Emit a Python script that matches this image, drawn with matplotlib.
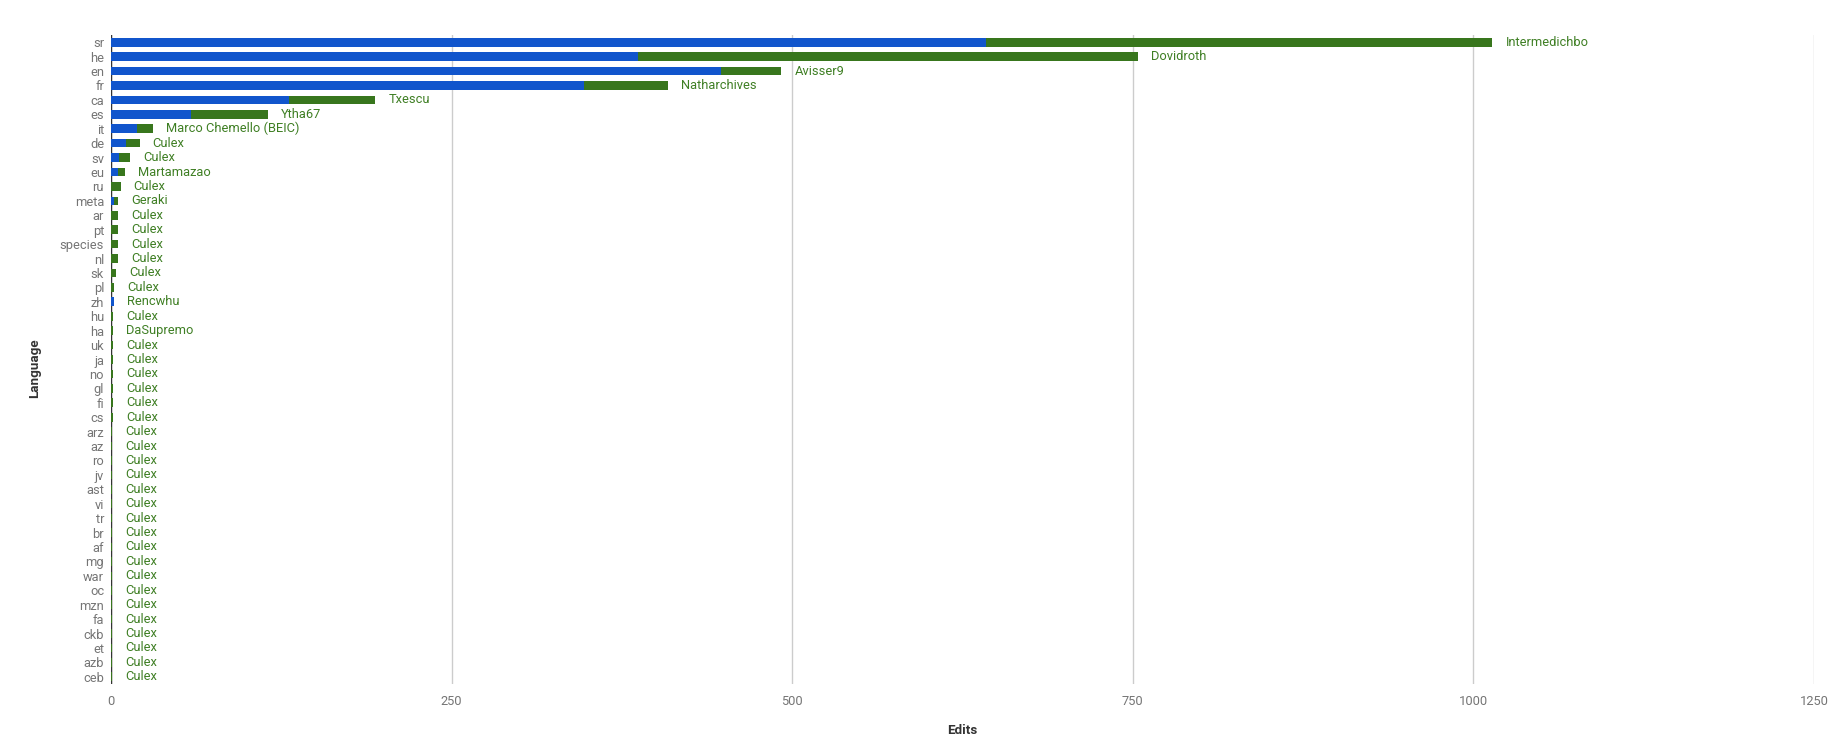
import matplotlib.pyplot as plt

plt.rcParams["font.family"] = ["Roboto", "DejaVu Sans"]

languages = [
    "sr", "he", "en", "fr", "ca", "es", "it", "de", "sv", "eu", "ru", "meta",
    "ar", "pt", "species", "nl", "sk", "pl", "zh", "hu", "ha", "uk", "ja", "no",
    "gl", "fi", "cs", "arz", "az", "ro", "jv", "ast", "vi", "tr", "br", "af",
    "mg", "war", "oc", "mzn", "fa", "ckb", "et", "azb", "ceb",
]
blue_edits = [
    642, 387, 448, 347, 131, 59, 19, 11, 6, 5, 0, 2,
    0, 0, 0, 0, 0, 0, 2, 0, 0, 0, 0, 0,
    0, 0, 0, 0, 0, 0, 0, 0, 0, 0, 0, 0,
    0, 0, 0, 0, 0, 0, 0, 0, 0,
]
green_edits = [
    372, 367, 44, 62, 63, 56, 12, 10, 8, 5, 7, 3,
    5, 5, 5, 5, 4, 2.5, 0, 1.5, 1.5, 1.5, 1.5, 1.5,
    1.5, 1.5, 1.5, 1, 1, 1, 1, 1, 1, 1, 1, 1,
    1, 1, 1, 1, 1, 1, 1, 1, 1,
]
top_users = [
    "Intermedichbo", "Dovidroth", "Avisser9", "Natharchives", "Txescu", "Ytha67",
    "Marco Chemello (BEIC)", "Culex", "Culex", "Martamazao", "Culex", "Geraki",
    "Culex", "Culex", "Culex", "Culex", "Culex", "Culex", "Rencwhu", "Culex",
    "DaSupremo", "Culex", "Culex", "Culex", "Culex", "Culex", "Culex", "Culex",
    "Culex", "Culex", "Culex", "Culex", "Culex", "Culex", "Culex", "Culex",
    "Culex", "Culex", "Culex", "Culex", "Culex", "Culex", "Culex", "Culex",
    "Culex",
]
x_ticks = [0, 250, 500, 750, 1000, 1250]

BLUE = "#1155cc"
GREEN = "#38761d"
GREY = "#757575"


def main():
    fig = plt.figure(figsize=(18.36, 7.54), dpi=100)
    ax = fig.add_axes([111 / 1836, 1 - 684 / 754, (1814 - 111) / 1836, (684 - 35) / 754])

    y = list(range(len(languages)))
    ax.barh(y, blue_edits, height=0.6, color=BLUE, zorder=3)
    ax.barh(y, green_edits, left=blue_edits, height=0.6, color=GREEN, zorder=3)

    for i, user in enumerate(top_users):
        total = blue_edits[i] + green_edits[i]
        ax.annotate(user, (total, i), xytext=(9.4, 0), textcoords="offset points",
                    va="center", ha="left", fontsize=9.3, color="#3f7f24")

    ax.set_ylim(len(languages) - 0.5, -0.5)
    ax.set_xlim(0, 1250)
    ax.set_xticks(x_ticks)
    ax.set_xticklabels([str(t) for t in x_ticks])
    ax.set_yticks(y)
    ax.set_yticklabels(languages)
    ax.tick_params(axis="both", length=0, colors=GREY, labelsize=9.3)
    ax.tick_params(axis="y", pad=5)
    ax.tick_params(axis="x", pad=8)

    ax.grid(axis="x", color="#cccccc", linewidth=1, zorder=0)
    ax.axvline(0, color="#333333", linewidth=1.0, zorder=2)
    for side in ["top", "right", "bottom", "left"]:
        ax.spines[side].set_visible(False)

    fig.text(962 / 1836, 1 - 731 / 754, "Edits", ha="center", va="center",
             fontsize=9.6, fontweight="bold", color="#333333")
    fig.text(35 / 1836, 1 - 368 / 754, "Language", ha="center", va="center",
             rotation=90, fontsize=9.6, fontweight="bold", color="#333333")

    fig.savefig("out.png", dpi=100)


if __name__ == "__main__":
    main()
